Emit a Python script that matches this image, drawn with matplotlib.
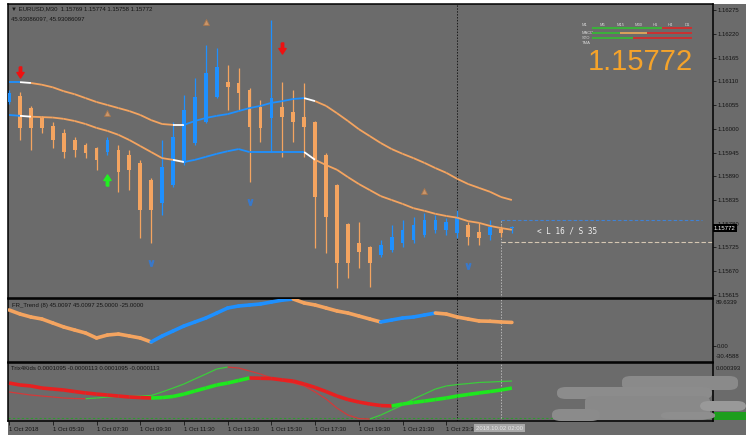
import numpy as np
import matplotlib.pyplot as plt
from matplotlib.collections import LineCollection
from matplotlib.path import Path
from matplotlib.patches import Rectangle, FancyBboxPatch

W, H = 746, 442
BG = '#6b6b6b'
ORANGE = '#f4a460'
BLUE = '#1e90ff'
TXT = '#151515'

# ---- data (EURUSD M30, bars from 03:30) ----
bars = np.arange(-1, 46)
opens = [1.16062, 1.16076, 1.16048, 1.16025, 1.16006, 1.15990, 1.15974, 1.15962, 1.15955, 1.15946,
         1.15951, 1.15939, 1.15921, 1.15882, 1.15828, 1.15870, 1.15921, 1.15967, 1.16016, 1.16073,
         1.16108, 1.16106, 1.16090, 1.16050, 1.16025, 1.16050, 1.16039, 1.16027, 1.16016, 1.15939,
         1.15870, 1.15779, 1.15735, 1.15726, 1.15707, 1.15719, 1.15735, 1.15742, 1.15754, 1.15766,
         1.15766, 1.15759, 1.15777, 1.15761, 1.15754, 1.15768, 1.15769]
highs = [1.16090, 1.16085, 1.16053, 1.16030, 1.16016, 1.15999, 1.15981, 1.15967, 1.15958, 1.15981,
         1.15962, 1.15951, 1.15928, 1.15886, 1.15974, 1.16016, 1.16078, 1.16118, 1.16194, 1.16187,
         1.16148, 1.16141, 1.16094, 1.16066, 1.16252, 1.16108, 1.16090, 1.16106, 1.16018, 1.15944,
         1.15872, 1.15782, 1.15784, 1.15728, 1.15742, 1.15777, 1.15789, 1.15796, 1.15805, 1.15800,
         1.15794, 1.15812, 1.15784, 1.15782, 1.15789, 1.15775, 1.15774]
lows = [1.16057, 1.15974, 1.15951, 1.15990, 1.15955, 1.15932, 1.15934, 1.15932, 1.15905, 1.15939,
        1.15854, 1.15858, 1.15747, 1.15735, 1.15800, 1.15866, 1.15916, 1.15962, 1.16013, 1.16071,
        1.16043, 1.16043, 1.15877, 1.15969, 1.15946, 1.15934, 1.15969, 1.15934, 1.15724, 1.15712,
        1.15631, 1.15654, 1.15677, 1.15633, 1.15703, 1.15714, 1.15726, 1.15735, 1.15749, 1.15759,
        1.15754, 1.15747, 1.15731, 1.15731, 1.15742, 1.15749, 1.15758]
closes = [1.16083, 1.16002, 1.16002, 1.16002, 1.15974, 1.15946, 1.15951, 1.15944, 1.15928, 1.15974,
          1.15900, 1.15905, 1.15812, 1.15812, 1.15911, 1.15981, 1.16043, 1.16073, 1.16129, 1.16143,
          1.16097, 1.16083, 1.16004, 1.16002, 1.16071, 1.16027, 1.16016, 1.16004, 1.15842, 1.15796,
          1.15689, 1.15689, 1.15714, 1.15689, 1.15731, 1.15749, 1.15766, 1.15777, 1.15789, 1.15789,
          1.15784, 1.15796, 1.15749, 1.15747, 1.15772, 1.15759, 1.15772]

band_upper = [1.16108, 1.16108, 1.16106, 1.16102, 1.16096, 1.16087, 1.16080, 1.16071, 1.16062, 1.16055,
              1.16048, 1.16041, 1.16032, 1.16020, 1.16011, 1.16009, 1.16009, 1.16018, 1.16025, 1.16030,
              1.16034, 1.16041, 1.16048, 1.16053, 1.16060, 1.16064, 1.16069, 1.16071, 1.16064, 1.16053,
              1.16036, 1.16018, 1.15999, 1.15983, 1.15967, 1.15953, 1.15942, 1.15932, 1.15921, 1.15909,
              1.15898, 1.15884, 1.15872, 1.15863, 1.15854, 1.15842, 1.15835]
band_lower = [1.16032, 1.16030, 1.16028, 1.16027, 1.16026, 1.16023, 1.16018, 1.16011, 1.16002, 1.15995,
              1.15986, 1.15974, 1.15960, 1.15946, 1.15932, 1.15928, 1.15923, 1.15928, 1.15935, 1.15942,
              1.15948, 1.15953, 1.15946, 1.15946, 1.15946, 1.15946, 1.15946, 1.15946, 1.15928, 1.15916,
              1.15905, 1.15888, 1.15872, 1.15858, 1.15844, 1.15835, 1.15826, 1.15816, 1.15810, 1.15803,
              1.15798, 1.15794, 1.15786, 1.15782, 1.15775, 1.15770, 1.15766]
# 1 = up (blue), -1 = down (orange), 0 = switch bar (white)
band_trend = [1, 1, 0, -1, -1, -1, -1, -1, -1, -1, -1, -1, -1, -1, -1, -1, 0, 1, 1, 1, 1, 1, 1, 1,
              1, 1, 1, 1, 0, -1, -1, -1, -1, -1, -1, -1, -1, -1, -1, -1, -1, -1, -1, -1, -1, -1, -1]

sell_arrows_x = [0, 24]
sell_arrows_y = [1.16131, 1.16187]
buy_arrows_x = [8]
buy_arrows_y = [1.15882]
up_marks_x = [8, 17, 37]
up_marks_y = [1.16036, 1.16247, 1.15856]
dn_marks_x = [12, 21, 41]
dn_marks_y = [1.15689, 1.15830, 1.15682]

fr_trend = [68.7, 61.0, 55.3, 51.5, 43.9, 36.3, 30.5, 24.8, 15.3, 21.0, 22.9, 19.1, 15.3, 7.7,
            19.1, 28.6, 38.2, 45.8, 53.4, 62.9, 72.5, 76.3, 78.2, 80.1, 83.9, 87.5, 89.6, 82.0,
            78.2, 72.5, 66.8, 62.9, 57.2, 51.5, 45.8, 49.6, 53.4, 55.3, 59.1, 62.9, 61.0, 55.3,
            51.5, 47.7, 47.2, 45.8, 45.0]
# 1 = bull colour, -1 = bear colour
fr_state = [-1, -1, -1, -1, -1, -1, -1, -1, -1, -1, -1, -1, -1, -1, 1, 1, 1, 1, 1, 1, 1, 1, 1,
            1, 1, 1, 1, -1, -1, -1, -1, -1, -1, -1, -1, 1, 1, 1, 1, 1, -1, -1, -1, -1, -1, -1, -1]

# Trix4Kids, units of 1e-4
trix_main = [2.50, 2.36, 2.29, 2.14, 2.07, 2.00, 1.89, 1.79, 1.71, 1.64, 1.57, 1.50, 1.46, 1.43,
             1.46, 1.54, 1.71, 1.93, 2.14, 2.36, 2.50, 2.68, 2.86, 2.84, 2.82, 2.72, 2.64, 2.43,
             2.18, 1.89, 1.57, 1.32, 1.14, 1.00, 0.89, 0.86, 1.00, 1.11, 1.21, 1.32, 1.43, 1.57,
             1.68, 1.79, 1.89, 2.00, 2.14]
trix_fast = [1.86, 1.75, 1.64, 1.57, 1.50, 1.43, 1.39, 1.38, 1.43, 1.50, 1.54, 1.55, 1.57, 1.61,
             1.86, 2.14, 2.43, 2.79, 3.14, 3.50, 3.64, 3.57, 3.36, 3.14, 2.86, 2.64, 2.50, 2.29,
             1.86, 1.36, 0.71, 0.21, -0.04, -0.07, 0.21, 0.57, 0.93, 1.36, 1.71, 2.07, 2.29, 2.39,
             2.46, 2.54, 2.57, 2.61, 2.64]

price_ticks = [1.16275, 1.16220, 1.16165, 1.16110, 1.16055, 1.16000, 1.15945, 1.15890, 1.15835,
               1.15780, 1.15725, 1.15670, 1.15615]
time_ticks = [-1, 3, 7, 11, 15, 19, 23, 27, 31, 35, 39]
time_labels = ['1 Oct 2018', '1 Oct 05:30', '1 Oct 07:30', '1 Oct 09:30', '1 Oct 11:30',
               '1 Oct 13:30', '1 Oct 15:30', '1 Oct 17:30', '1 Oct 19:30', '1 Oct 21:30',
               '1 Oct 23:30']
last_price = 1.15772
order_buy = 1.15789
order_sell = 1.15738
day_sep = 40
cursor_bar = 44

plt.rcParams['font.family'] = ['Liberation Sans', 'DejaVu Sans']


def box(x0, y0, x1, y1):
    return [x0 / W, 1 - y1 / H, (x1 - x0) / W, (y1 - y0) / H]


def fx(x):
    return x / W


def fy(y):
    return 1 - y / H


fig = plt.figure(figsize=(W / 100, H / 100), dpi=100, facecolor='white')
fig.patches.append(Rectangle((fx(8), fy(435)), 1 - fx(8), fy(4) - fy(435),
                             transform=fig.transFigure, facecolor=BG, edgecolor='none', zorder=-5))

ax = fig.add_axes(box(8, 4, 713, 298))
ax2 = fig.add_axes(box(8, 299, 713, 362))
ax3 = fig.add_axes(box(8, 363, 713, 421))
xlim = (-1.1, 63.4)
for a in (ax, ax2, ax3):
    a.set_facecolor(BG)
    a.set_xlim(*xlim)
    for s in a.spines.values():
        s.set_color('black')
        s.set_linewidth(1.1)
    a.yaxis.tick_right()
    a.tick_params(axis='y', direction='out', length=2, width=0.6, pad=1,
                  labelsize=4.3, colors=TXT)
    a.set_xticks([])
    a.axvline(day_sep, color='#1a1a1a', lw=0.7, ls=(0, (1.5, 1.5)), zorder=1)

# ---- main price panel ----
ax.set_ylim(1.15608, 1.16289)
ax.set_yticks(price_ticks)
ax.set_yticklabels(['%.5f' % p for p in price_ticks])

for b, o, h, l, c in zip(bars, opens, highs, lows, closes):
    col = BLUE if c > o else ORANGE
    ax.vlines(b, l, h, color=col, lw=0.9, zorder=3)
    ax.bar(b, max(abs(c - o), 0.000012), bottom=min(o, c), width=0.34, color=col, zorder=3)

trend_col = {1: BLUE, -1: ORANGE, 0: 'white'}
for band in (band_upper, band_lower):
    segs = [[(bars[k - 1], band[k - 1]), (bars[k], band[k])] for k in range(1, len(bars))]
    cols = [trend_col[t] for t in band_trend[1:]]
    ax.add_collection(LineCollection(segs, colors=cols, linewidths=1.3, zorder=4))

down_arrow = Path([(-0.22, 1), (0.22, 1), (0.22, 0), (0.65, 0), (0, -1), (-0.65, 0), (-0.22, 0), (-0.22, 1)])
up_arrow = Path([(-0.22, -1), (0.22, -1), (0.22, 0), (0.65, 0), (0, 1), (-0.65, 0), (-0.22, 0), (-0.22, -1)])
ax.plot(sell_arrows_x, sell_arrows_y, ls='none', marker=down_arrow, ms=8, color='#ee1111', zorder=5)
ax.plot(buy_arrows_x, buy_arrows_y, ls='none', marker=up_arrow, ms=8, color='#22ee22', zorder=5)
ax.plot(up_marks_x, up_marks_y, ls='none', marker='^', ms=4.5, mfc='#c9956a', mec='#a8764c',
        mew=0.6, zorder=5)
ax.plot(dn_marks_x, dn_marks_y, ls='none', marker=r'$\vee$', ms=4, color='#3a78c8', zorder=5)

ax.plot([cursor_bar, 62.4], [order_buy, order_buy], color='#3f82d6', lw=0.8, ls=(0, (3, 2)), zorder=2)
ax.plot([cursor_bar, xlim[1]], [order_sell, order_sell], color='#d6c7b3', lw=0.8, ls=(0, (4, 2)), zorder=2)
ax.plot([cursor_bar, cursor_bar], [1.15608, order_buy], color='#b5b5b5', lw=0.7, ls=(0, (1.5, 1.5)), zorder=2)
ax.text(47.3, 1.15764, '< L 16 / S 35', color='#f0f0f0', fontsize=5.5,
        family='DejaVu Sans Mono', va='center', zorder=6)

# ---- FR_Trend panel ----
ax2.set_ylim(-30.4588, 89.6339)
ax2.set_yticks([0])
ax2.set_yticklabels(['0.00'])
fr_segs = [[(bars[k - 1], fr_trend[k - 1]), (bars[k], fr_trend[k])] for k in range(1, len(bars))]
fr_cols = [BLUE if s > 0 else ORANGE for s in fr_state[1:]]
ax2.add_collection(LineCollection(fr_segs, colors=fr_cols, linewidths=2.6, capstyle='round', zorder=3))
ax2.axvline(cursor_bar, color='#b5b5b5', lw=0.7, ls=(0, (1.5, 1.5)), zorder=1)

# ---- Trix4Kids panel ----
tm = np.array(trix_main) * 1e-4
tf = np.array(trix_fast) * 1e-4
ax3.set_ylim(-0.0000214, 0.000393)
ax3.set_yticks([])
ax3.axhline(0, color='#2f9a2f', lw=0.8, ls=(0, (2, 2)), zorder=1)
ax3.axvline(cursor_bar, color='#b5b5b5', lw=0.7, ls=(0, (1.5, 1.5)), zorder=1)
for vals, lw, up_c, dn_c in ((tf, 0.9, '#3ccc3c', '#d23a3a'), (tm, 2.6, '#1ee81e', '#e82020')):
    segs = [[(bars[k - 1], vals[k - 1]), (bars[k], vals[k])] for k in range(1, len(bars))]
    cols = [up_c if vals[k] > vals[k - 1] else dn_c for k in range(1, len(bars))]
    ax3.add_collection(LineCollection(segs, colors=cols, linewidths=lw, zorder=3))

ax3.set_xticks(time_ticks)
ax3.set_xticklabels(time_labels, ha='left')
ax3.tick_params(axis='x', direction='out', length=3, width=0.6, pad=1.5, labelsize=4.3, colors=TXT)

# ---- texts ----
fig.text(fx(11), fy(9), '\u25BC EURUSD,M30  1.15769 1.15774 1.15758 1.15772', fontsize=4.3,
         color=TXT, va='center')
fig.text(fx(11), fy(19), '45.93086097, 45.93086097', fontsize=4.3, color=TXT, va='center')
fig.text(fx(12), fy(305), 'FR_Trend (8) 45.0097 45.0097 25.0000 -25.0000', fontsize=4.3,
         color=TXT, va='center')
fig.text(fx(11), fy(369), 'Trix4Kids 0.0001095 -0.0000113 0.0001095 -0.0000113', fontsize=4.3,
         color=TXT, va='center')
fig.text(fx(716), fy(303), '89.6339', fontsize=4.3, color=TXT, va='center')
fig.text(fx(716), fy(357), '-30.4588', fontsize=4.3, color=TXT, va='center')
fig.text(fx(716), fy(368), '0.000393', fontsize=4.3, color=TXT, va='center')

fig.text(fx(714), fy(228), '%.5f' % last_price, fontsize=4.3, color='white', va='center',
         bbox=dict(boxstyle='square,pad=0.25', fc='black', ec='none'))
fig.text(fx(476), fy(428), '2018.10.02 02:00', fontsize=4.3, color='#e6e6e6', va='center',
         bbox=dict(boxstyle='square,pad=0.3', fc='#a9a9a9', ec='none'), zorder=10)

# big price + timeframe table
fig.text(fx(640), fy(62), '%.5f' % last_price, fontsize=21, color='#f5a32a', ha='center', va='center')
for lab, x in zip(['M1', 'M5', 'M15', 'M30', 'H1', 'H4', 'D1'], [582, 600, 617, 635, 653, 668, 685]):
    fig.text(fx(x), fy(25), lab, fontsize=3, color='#d8d8d8', va='center')
for lab, y in zip(['MACD', 'STO', 'TMA'], [33, 38, 43]):
    fig.text(fx(582), fy(y), lab, fontsize=3, color='#d8d8d8', va='center')
for y, parts in ((28, [(592, 662, '#3cb03c'), (662, 692, '#c83232')]),
                 (33, [(592, 620, '#3cb03c'), (620, 647, '#d9a05a'), (647, 692, '#c83232')]),
                 (38, [(592, 633, '#3cb03c'), (633, 692, '#c83232')])):
    for x0, x1, c in parts:
        fig.patches.append(Rectangle((fx(x0), fy(y + 1)), fx(x1) - fx(x0), fy(y - 1) - fy(y + 1),
                                     transform=fig.transFigure, fc=c, ec='none', zorder=5))

# green value box and the grey smudges over the bottom-right corner
fig.patches.append(Rectangle((fx(714), fy(420)), fx(746) - fx(714), fy(412) - fy(420),
                             transform=fig.transFigure, fc='#1d9e1d', ec='none', zorder=6))
for x0, y0, x1, y1, c in ((622, 376, 738, 390, '#8a8a8a'), (557, 387, 712, 399, '#8c8c8c'),
                          (585, 396, 710, 420, '#898989'), (552, 409, 600, 421, '#8b8b8b'),
                          (700, 401, 746, 411, '#999999'), (660, 412, 716, 419, '#8e8e8e')):
    fig.patches.append(FancyBboxPatch((fx(x0), fy(y1)), fx(x1) - fx(x0), fy(y0) - fy(y1),
                                      boxstyle='round,pad=0,rounding_size=0.012',
                                      transform=fig.transFigure, fc=c, ec='none', zorder=7))

fig.savefig('out.png', dpi=100, facecolor='white')
